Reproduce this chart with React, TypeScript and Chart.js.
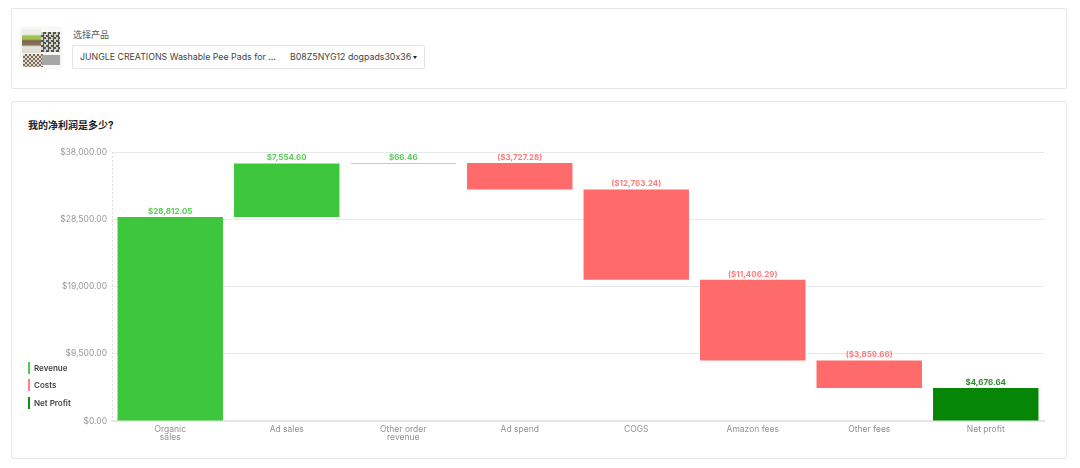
import React, { useEffect, useRef } from 'react';
import { Chart, registerables } from 'chart.js';

Chart.register(...registerables);

const categories = [['Organic', 'sales'], 'Ad sales', ['Other order', 'revenue'], 'Ad spend', 'COGS', 'Amazon fees', 'Other fees', 'Net profit'];
const ranges: [number, number][] = [
  [0, 28812.05],
  [28812.05, 36366.65],
  [36366.65, 36433.11],
  [32705.83, 36433.11],
  [19942.59, 32705.83],
  [8536.3, 19942.59],
  [4676.64, 8536.3],
  [0, 4676.64],
];
const valueLabels = ['$28,812.05', '$7,554.60', '$66.46', '($3,727.28)', '($12,763.24)', '($11,406.29)', '($3,859.66)', '$4,676.64'];
const barColors = ['#3ec63c', '#3ec63c', '#3ec63c', '#ff6a6a', '#ff6a6a', '#ff6a6a', '#ff6a6a', '#078507'];
const labelColors = ['#5ccb5a', '#5ccb5a', '#5ccb5a', '#ff7c7c', '#ff7c7c', '#ff7c7c', '#ff7c7c', '#2e8b2e'];
const legendItems = [
  { label: 'Revenue', color: '#4fd04d' },
  { label: 'Costs', color: '#ff8080' },
  { label: 'Net Profit', color: '#118f11' },
];

const FONT = 'Inter, "Noto Sans CJK SC", sans-serif';

const barLabels = {
  id: 'barLabels',
  afterDatasetsDraw(chart: Chart) {
    const { ctx, chartArea, scales } = chart;
    // dashed y axis line
    ctx.save();
    ctx.strokeStyle = '#dcdcdc';
    ctx.setLineDash([2, 2]);
    ctx.beginPath();
    ctx.moveTo(scales.x.left + 0.5, chartArea.top);
    ctx.lineTo(scales.x.left + 0.5, chartArea.bottom);
    ctx.stroke();
    ctx.restore();

    chart.getDatasetMeta(0).data.forEach((bar: any, i: number) => {
      ctx.save();
      ctx.font = `bold 8px ${FONT}`;
      ctx.fillStyle = labelColors[i];
      ctx.textAlign = 'center';
      ctx.textBaseline = 'bottom';
      ctx.fillText(valueLabels[i], bar.x, bar.y - 1.5);
      ctx.restore();
    });
  },
};

const cardStyle: React.CSSProperties = {
  position: 'absolute',
  left: 11,
  width: 1054,
  background: '#fff',
  border: '1px solid #e3e8ea',
  borderRadius: 2,
};

export default function App() {
  const canvasRef = useRef<HTMLCanvasElement | null>(null);

  useEffect(() => {
    if (!canvasRef.current) return;
    const chart = new Chart(canvasRef.current, {
      type: 'bar',
      data: {
        labels: categories as any,
        datasets: [{ data: ranges as any, backgroundColor: barColors, barPercentage: 0.905, categoryPercentage: 1 }],
      },
      plugins: [barLabels],
      options: {
        animation: false,
        responsive: false,
        maintainAspectRatio: false,
        layout: { padding: { top: 50, right: 22, left: 0, bottom: 0 } },
        plugins: { legend: { display: false }, tooltip: { enabled: false } },
        scales: {
          x: {
            grid: { display: false, tickLength: 0 },
            border: { color: '#e6e6e6', width: 2 },
            ticks: { color: '#929292', font: { family: FONT, size: 8.5, lineHeight: 1 }, padding: 4, maxRotation: 0, autoSkip: false },
            afterFit: (s: any) => { s.height = 36; },
          },
          y: {
            min: 0,
            max: 38000,
            grid: { color: '#e6e9ea', drawTicks: false },
            border: { display: false },
            ticks: {
              stepSize: 9500,
              padding: 5,
              color: '#999999',
              font: { family: FONT, size: 8.5 },
              callback: (v: any) => '$' + Number(v).toLocaleString('en-US', { minimumFractionDigits: 2 }),
            },
            afterFit: (s: any) => { s.width = 100; },
          },
        },
      },
    });
    return () => chart.destroy();
  }, []);

  return (
    <div style={{ position: 'absolute', left: 0, top: 0, width: 1080, height: 468, background: '#fff', overflow: 'hidden', fontFamily: FONT, fontFeatureSettings: '"calt" 0' }}>
      <div style={{ ...cardStyle, top: 8, height: 79 }} />
      <div style={{ position: 'absolute', left: 21, top: 28, width: 40, height: 40, background: '#f8f8f6', boxShadow: '0 0 2px #ddd', overflow: 'hidden' }}>
        <div style={{ position: 'absolute', left: 1, top: 1, width: 19, height: 24, filter: 'blur(0.5px)', background: 'linear-gradient(180deg,#eef0e8 0%,#eef0e8 22%,#a3bf52 30%,#a3bf52 42%,#7d6450 50%,#8a7260 66%,#e6e6e0 74%,#d9d9d4 100%)' }} />
        <div style={{ position: 'absolute', left: 20, top: 4, width: 19, height: 20, filter: 'blur(0.6px)', background: 'repeating-conic-gradient(#55554f 0% 25%,#d2d2cb 0% 50%) 0 0/5px 5px' }} />
        <div style={{ position: 'absolute', left: 2, top: 26, width: 20, height: 13, filter: 'blur(0.6px)', background: 'repeating-conic-gradient(#7b6a56 0% 25%,#e0dace 0% 50%) 0 0/4px 4px' }} />
        <div style={{ position: 'absolute', left: 21, top: 27, width: 18, height: 10, background: '#a6a6a4' }} />
      </div>
      <div style={{ position: 'absolute', left: 73, top: 28, fontSize: 9, color: '#555' }}>选择产品</div>
      <div style={{ position: 'absolute', left: 72, top: 45, width: 351, height: 22, border: '1px solid #dfe5e8', borderRadius: 2, fontSize: 8.8, lineHeight: '22px', color: '#444', whiteSpace: 'nowrap' }}>
        <span style={{ position: 'absolute', left: 7 }}>JUNGLE CREATIONS Washable Pee Pads for ...</span>
        <span style={{ position: 'absolute', left: 217 }}>B08Z5NYG12 dogpads30x36</span>
        <span style={{ position: 'absolute', left: 340, top: 10, width: 0, height: 0, borderLeft: '2.5px solid transparent', borderRight: '2.5px solid transparent', borderTop: '3px solid #222' }} />
      </div>
      <div style={{ ...cardStyle, top: 101, height: 356 }} />
      <div style={{ position: 'absolute', left: 28, top: 117, fontSize: 10, fontWeight: 700, color: '#222' }}>我的净利润是多少?</div>
      <canvas ref={canvasRef} width={1054} height={355} style={{ position: 'absolute', left: 12, top: 102, width: 1054, height: 355 }} />
      {legendItems.map((item, i) => (
        <div key={item.label} style={{ position: 'absolute', left: 28, top: 362 + i * 17.3, height: 12, borderLeft: `2px solid ${item.color}`, paddingLeft: 4, fontSize: 8, fontWeight: 600, lineHeight: '12px', color: '#444' }}>
          {item.label}
        </div>
      ))}
    </div>
  );
}
